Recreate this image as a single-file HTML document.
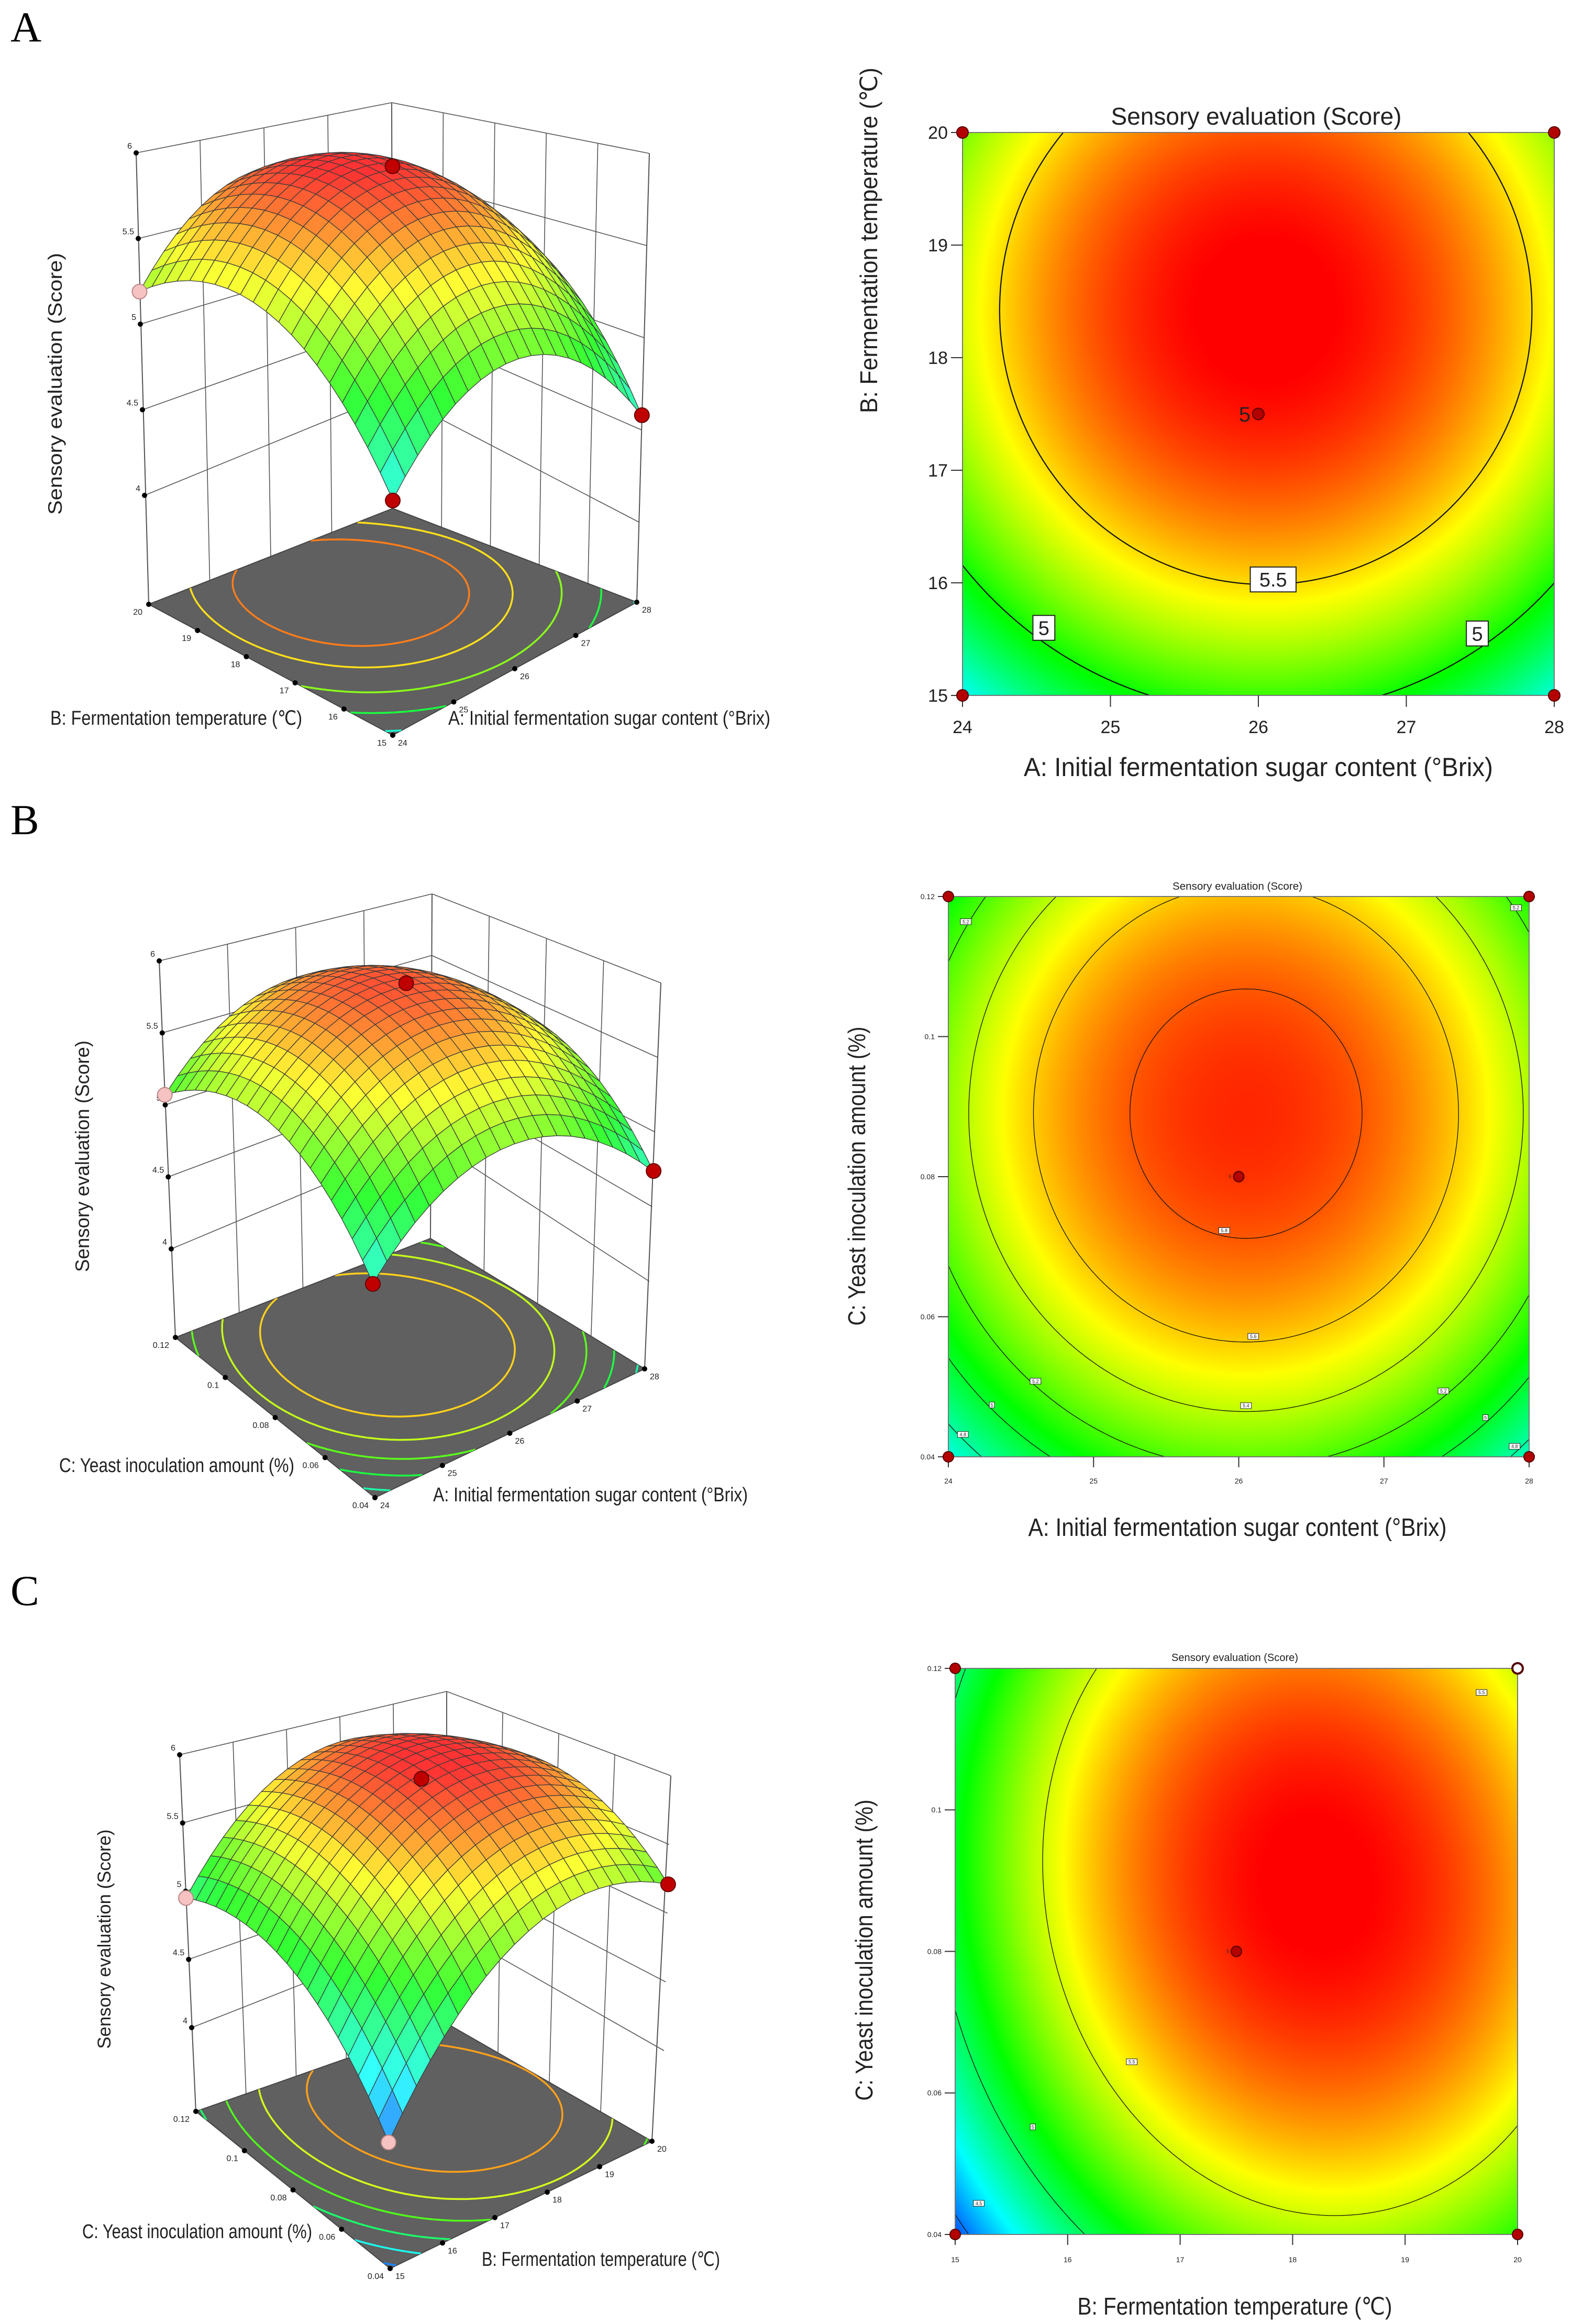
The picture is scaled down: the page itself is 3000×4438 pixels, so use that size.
<!DOCTYPE html>
<html><head><meta charset="utf-8">
<style>
html,body{margin:0;padding:0;background:#fff;}
#root{position:relative;width:3000px;height:4438px;overflow:hidden;background:#fff;}
canvas{position:absolute;}
svg{position:absolute;left:0;top:0;}
text{font-family:"Liberation Sans",sans-serif;fill:#222;}
.nar{font-family:"Liberation Sans Narrow","Liberation Sans",sans-serif;}
.let{font-family:"Liberation Serif",serif;fill:#000;}
</style></head>
<body>
<div id="root">
<canvas id="hmA"></canvas>
<canvas id="hmB"></canvas>
<canvas id="hmC"></canvas>
<svg id="svg" width="3000" height="4438">
<g id="marks"></g>
<g>
<text class="let" x="20" y="79" font-size="82">A</text>
<text class="let" x="20" y="1593" font-size="82">B</text>
<text class="let" x="20" y="3065" font-size="82">C</text>

<text x="0" y="0" font-size="37" textLength="500" lengthAdjust="spacingAndGlyphs" text-anchor="middle" transform="translate(118,733) rotate(-90)">Sensory evaluation (Score)</text>
<text class="nar" x="96" y="1384" font-size="38" textLength="481" lengthAdjust="spacingAndGlyphs">B: Fermentation temperature (℃)</text>
<text class="nar" x="856" y="1384" font-size="38" textLength="615" lengthAdjust="spacingAndGlyphs">A: Initial fermentation sugar content (°Brix)</text>

<text x="0" y="0" font-size="37" textLength="442" lengthAdjust="spacingAndGlyphs" text-anchor="middle" transform="translate(170,2208) rotate(-90)">Sensory evaluation (Score)</text>
<text class="nar" x="113" y="2811" font-size="38" textLength="449" lengthAdjust="spacingAndGlyphs">C: Yeast inoculation amount (%)</text>
<text class="nar" x="827" y="2867" font-size="38" textLength="601" lengthAdjust="spacingAndGlyphs">A: Initial fermentation sugar content (°Brix)</text>

<text x="0" y="0" font-size="35" textLength="419" lengthAdjust="spacingAndGlyphs" text-anchor="middle" transform="translate(211,3703) rotate(-90)">Sensory evaluation (Score)</text>
<text class="nar" x="157" y="4274" font-size="38" textLength="439" lengthAdjust="spacingAndGlyphs">C: Yeast inoculation amount (%)</text>
<text class="nar" x="920" y="4327" font-size="38" textLength="455" lengthAdjust="spacingAndGlyphs">B: Fermentation temperature (℃)</text>

<text x="2399" y="238" font-size="46" textLength="555" lengthAdjust="spacingAndGlyphs" text-anchor="middle">Sensory evaluation (Score)</text>
<text x="2403" y="1482" font-size="50" textLength="896" lengthAdjust="spacingAndGlyphs" text-anchor="middle">A: Initial fermentation sugar content (°Brix)</text>
<text x="0" y="0" font-size="46" textLength="660" lengthAdjust="spacingAndGlyphs" text-anchor="middle" transform="translate(1675,459) rotate(-90)">B: Fermentation temperature (℃)</text>

<text x="2363" y="1699" font-size="20" textLength="248" lengthAdjust="spacingAndGlyphs" text-anchor="middle">Sensory evaluation (Score)</text>
<text x="2363" y="2933" font-size="48" textLength="799" lengthAdjust="spacingAndGlyphs" text-anchor="middle">A: Initial fermentation sugar content (°Brix)</text>
<text x="0" y="0" font-size="46" textLength="571" lengthAdjust="spacingAndGlyphs" text-anchor="middle" transform="translate(1652,2246) rotate(-90)">C: Yeast inoculation amount (%)</text>

<text x="2358" y="3172" font-size="20" textLength="242" lengthAdjust="spacingAndGlyphs" text-anchor="middle">Sensory evaluation (Score)</text>
<text x="2358" y="4420" font-size="46" textLength="601" lengthAdjust="spacingAndGlyphs" text-anchor="middle">B: Fermentation temperature (℃)</text>
<text x="0" y="0" font-size="46" textLength="575" lengthAdjust="spacingAndGlyphs" text-anchor="middle" transform="translate(1666,3724) rotate(-90)">C: Yeast inoculation amount (%)</text>
</g>
</svg>
</div>
<script>
// ---- model data (quadratic coefficients in coded units: k0, kx, ky, kxy, kxx, kyy) ----
const coefA = [5.868, 0.0266, 0.3335, 0, -0.531, -0.4531];
const coefB = [5.863, 0.0266, 0.193, 0, -0.532, -0.429];
const coefC = [5.95, 0.33, 0.2, -0.06, -0.55, -0.38];
const colorRangeA = [4.05, 5.9];
const colorRangeB = [4.2, 5.95];
const colorRangeC = [4.3, 6.0];
const sugarTicks = [24, 25, 26, 27, 28];
const tempTicks = [15, 16, 17, 18, 19, 20];
const yeastTicks = [0.04, 0.06, 0.08, 0.1, 0.12];
const yeastTickLabels = ['0.04', '0.06', '0.08', '0.1', '0.12'];
const zTicks = [4, 4.5, 5, 5.5, 6];
const zTickLabels = ['4', '4.5', '5', '5.5', '6'];
const levelsA = [5, 5.5];
const levelsB = [4.8, 5, 5.2, 5.4, 5.6, 5.8];
const levelsC = [4.5, 5, 5.5];
const floorLevelsA = [4.6, 4.9, 5.2, 5.5, 5.7];
const floorLevelsB = [4.8, 5.0, 5.2, 5.4, 5.6];
const floorLevelsC = [4.5, 4.75, 5.0, 5.25, 5.5, 5.75];
const labelsA_x = [26.1, 24.55, 27.48];
const labelsA_y = [16.03, 15.6, 15.55];
const labelsA_t = ['5.5', '5', '5'];
const labelsB_x = [24.12, 27.91, 25.90, 26.10, 26.05, 24.60, 24.30, 24.10, 27.41, 27.70, 27.90];
const labelsB_y = [0.1164, 0.1184, 0.0723, 0.0572, 0.0473, 0.0508, 0.0474, 0.0432, 0.0494, 0.0456, 0.0415];
const labelsB_t = ['5.2', '5.2', '5.8', '5.6', '5.4', '5.2', '5', '4.8', '5.2', '5', '4.8'];
const labelsC_x = [19.68, 16.57, 15.69, 15.21];
const labelsC_y = [0.1166, 0.0644, 0.0552, 0.0444];
const labelsC_t = ['5.5', '5.5', '5', '4.5'];
// design points (coded u,v in 0..1), response value, colour type
const ptsU = [0, 1, 0, 1, 0.5];
const ptsV = [0, 0, 1, 1, 0.5];
const ballValA = [4.52, 4.58, 5.19, null, 5.95];
const ballValB = [4.68, 4.74, 5.07, null, 5.95];
const ballValC = [4.43, 5.21, 4.95, null, 6.02];
const ballTypeA = ['red', 'red', 'pink', null, 'red'];
const ballTypeB = ['red', 'red', 'pink', null, 'red'];
const ballTypeC = ['pink', 'red', 'pink', null, 'red'];
const contourPtTypeC = ['red', 'red', 'red', 'open', 'red'];

const NS = 'http://www.w3.org/2000/svg';
const marks = document.getElementById('marks');
function mk(tag, attrs, parent) {
  const e = document.createElementNS(NS, tag);
  for (const k in attrs) e.setAttribute(k, attrs[k]);
  (parent || marks).appendChild(e);
  return e;
}
function model(c, x, y) { return c[0] + c[1]*x + c[2]*y + c[3]*x*y + c[4]*x*x + c[5]*y*y; }
const stops = [[0,0,0,255],[0.25,0,255,255],[0.5,0,255,0],[0.75,255,255,0],[1,255,0,0]];
function cmap(t) {
  t = Math.max(0, Math.min(1, t));
  for (let i = 1; i < stops.length; i++) {
    if (t <= stops[i][0]) {
      const a = stops[i-1], b = stops[i], f = (t - a[0]) / (b[0] - a[0]);
      return [a[1]+(b[1]-a[1])*f, a[2]+(b[2]-a[2])*f, a[3]+(b[3]-a[3])*f];
    }
  }
  return [255,0,0];
}
function rgb(c, w) { w = w || 0; return 'rgb(' + c.map(v => Math.round(v + (255 - v) * w)).join(',') + ')'; }

function contourSegs(c, level, n) {
  const segs = [];
  const f = (i, j) => model(c, 2*i/n - 1, 2*j/n - 1);
  const g = [];
  for (let i = 0; i <= n; i++) { g[i] = []; for (let j = 0; j <= n; j++) g[i][j] = f(i, j); }
  for (let i = 0; i < n; i++) for (let j = 0; j < n; j++) {
    const v = [g[i][j], g[i+1][j], g[i+1][j+1], g[i][j+1]];
    const p = [[i,j],[i+1,j],[i+1,j+1],[i,j+1]];
    const pts = [];
    for (let k = 0; k < 4; k++) {
      const a = v[k], b = v[(k+1)%4];
      if ((a - level) * (b - level) < 0) {
        const t = (level - a) / (b - a);
        const pa = p[k], pb = p[(k+1)%4];
        pts.push([(pa[0] + (pb[0]-pa[0])*t)/n, (pa[1] + (pb[1]-pa[1])*t)/n]);
      }
    }
    if (pts.length >= 2) segs.push([pts[0], pts[1]]);
    if (pts.length === 4) segs.push([pts[2], pts[3]]);
  }
  return segs;
}

function contourPlot(cfg) {
  const [x0, y0, x1, y1] = cfg.rect;
  const W = x1 - x0, H = y1 - y0;
  const cv = document.getElementById(cfg.canvas);
  cv.width = W; cv.height = H; cv.style.left = x0 + 'px'; cv.style.top = y0 + 'px';
  const ctx = cv.getContext('2d');
  const img = ctx.createImageData(W, H);
  for (let py = 0; py < H; py++) for (let px = 0; px < W; px++) {
    const u = (px + 0.5) / W, v = 1 - (py + 0.5) / H;
    const z = model(cfg.coef, 2*u-1, 2*v-1);
    const col = cmap((z - cfg.range[0]) / (cfg.range[1] - cfg.range[0]));
    const o = (py * W + px) * 4;
    img.data[o] = col[0]; img.data[o+1] = col[1]; img.data[o+2] = col[2]; img.data[o+3] = 255;
  }
  ctx.putImageData(img, 0, 0);
  const sx = u => x0 + u * W, sy = v => y1 - v * H;
  const dx = val => (val - cfg.xDom[0]) / (cfg.xDom[1] - cfg.xDom[0]);
  const dy = val => (val - cfg.yDom[0]) / (cfg.yDom[1] - cfg.yDom[0]);
  const g = mk('g', {});
  
  
  const clipId = cfg.name + '-clip';
  const cp = mk('clipPath', {id: clipId}, g);
  mk('rect', {x: x0, y: y0, width: W, height: H}, cp);
  cfg.levels.forEach(L => {
    let d = '';
    contourSegs(cfg.coef, L, 160).forEach(s => {
      d += 'M' + sx(s[0][0]).toFixed(1) + ',' + sy(s[0][1]).toFixed(1) + 'L' + sx(s[1][0]).toFixed(1) + ',' + sy(s[1][1]).toFixed(1);
    });
    const p = mk('path', {d: d, stroke: '#111', 'stroke-width': cfg.lw, fill: 'none', 'clip-path': 'url(#' + clipId + ')'}, g);
    
    
  });
  const fr = mk('rect', {x: x0, y: y0, width: W, height: H, fill: 'none', stroke: '#777', 'stroke-width': 2}, g);
  
  
  cfg.xTicks.forEach((t, i) => {
    const x = sx(dx(t));
    mk('line', {x1: x, y1: y1, x2: x, y2: y1 + cfg.tl, stroke: '#333', 'stroke-width': 2}, g);
    const tx = mk('text', {x: x, y: cfg.xLabY, 'font-size': cfg.tf, 'text-anchor': 'middle'}, g);
    tx.textContent = cfg.xTickLabels[i];
    
    
  });
  cfg.yTicks.forEach((t, i) => {
    const y = sy(dy(t));
    mk('line', {x1: x0 - cfg.tl, y1: y, x2: x0, y2: y, stroke: '#333', 'stroke-width': 2}, g);
    const tx = mk('text', {x: x0 - cfg.tl - 6, y: y + cfg.tf * 0.35, 'font-size': cfg.tf, 'text-anchor': 'end'}, g);
    tx.textContent = cfg.yTickLabels[i];
    
    
  });
  cfg.lx.forEach((lxv, i) => {
    const x = sx(dx(lxv)), y = sy(dy(cfg.ly[i]));
    const txt = cfg.lt[i];
    const w = cfg.lf * 0.6 * txt.length + cfg.lf * 0.5, h = cfg.lf * 1.25;
    const r = mk('rect', {x: x - w/2, y: y - h/2, width: w, height: h, fill: '#fff', stroke: '#222', 'stroke-width': cfg.lf > 20 ? 2 : 1}, g);
    
    
    const t = mk('text', {x: x, y: y + cfg.lf * 0.36, 'font-size': cfg.lf, 'text-anchor': 'middle'}, g);
    t.textContent = txt;
    
    
  });
  ptsU.forEach((u, i) => {
    const type = cfg.ptTypes[i];
    const c = mk('circle', {cx: sx(u), cy: sy(ptsV[i]), r: cfg.pr, fill: type === 'open' ? '#fff' : '#b30000', stroke: '#500', 'stroke-width': type === 'open' ? 4 : 2}, g);
    
    
  });
  const ct = mk('text', {x: sx(0.5) - cfg.pr - 4, y: sy(0.5) + cfg.cf * 0.36, 'font-size': cfg.cf, 'text-anchor': 'end'}, g);
  ct.textContent = '5';
  
  
}

contourPlot({name: 'contour-a', canvas: 'hmA', rect: [1838, 253, 2968, 1328], coef: coefA, range: colorRangeA,
  xDom: [24, 28], yDom: [15, 20], levels: levelsA, lw: 2.2,
  xTicks: sugarTicks, xTickLabels: sugarTicks.map(String), yTicks: tempTicks, yTickLabels: tempTicks.map(String),
  tl: 22, tf: 34, xLabY: 1400, lx: labelsA_x, ly: labelsA_y, lt: labelsA_t, lf: 38, pr: 11, cf: 40,
  ptTypes: ['red', 'red', 'red', 'red', 'red']});
contourPlot({name: 'contour-b', canvas: 'hmB', rect: [1811, 1712, 2920, 2782], coef: coefB, range: colorRangeB,
  xDom: [24, 28], yDom: [0.04, 0.12], levels: levelsB, lw: 1.3,
  xTicks: sugarTicks, xTickLabels: sugarTicks.map(String), yTicks: yeastTicks, yTickLabels: yeastTickLabels,
  tl: 20, tf: 14, xLabY: 2833, lx: labelsB_x, ly: labelsB_y, lt: labelsB_t, lf: 9, pr: 10, cf: 9,
  ptTypes: ['red', 'red', 'red', 'red', 'red']});
contourPlot({name: 'contour-c', canvas: 'hmC', rect: [1824, 3186, 2898, 4267], coef: coefC, range: colorRangeC,
  xDom: [15, 20], yDom: [0.04, 0.12], levels: levelsC, lw: 1.3,
  xTicks: tempTicks, xTickLabels: tempTicks.map(String), yTicks: yeastTicks, yTickLabels: yeastTickLabels,
  tl: 20, tf: 14, xLabY: 4320, lx: labelsC_x, ly: labelsC_y, lt: labelsC_t, lf: 9, pr: 10, cf: 9,
  ptTypes: contourPtTypeC});

function bil(F, R, L, B, u, v) {
  return [(1-u)*(1-v)*F[0] + u*(1-v)*R[0] + (1-u)*v*L[0] + u*v*B[0],
          (1-u)*(1-v)*F[1] + u*(1-v)*R[1] + (1-u)*v*L[1] + u*v*B[1]];
}
function surface(cfg) {
  const G = cfg.geo;
  const box = (u, v, z) => {
    const p4 = bil(G.F4, G.R4, G.L4, G.B4, u, v), p6 = bil(G.F6, G.R6, G.L6, G.B6, u, v);
    const t = (z - 4) / 2;
    return [p4[0] + (p6[0]-p4[0])*t, p4[1] + (p6[1]-p4[1])*t];
  };
  const fl = (u, v) => bil(G.fF, G.fR, G.fL, G.fB, u, v);
  const g = mk('g', {});
  
  
  const ln = (a, b, w, col) => mk('line', {x1: a[0], y1: a[1], x2: b[0], y2: b[1], stroke: col || '#555', 'stroke-width': w || 1.6}, g);
  zTicks.forEach(z => { ln(box(0,1,z), box(1,1,z)); ln(box(1,1,z), box(1,0,z)); });
  cfg.uTicks.forEach((t, i) => { const u = i / (cfg.uTicks.length - 1); ln(box(u,1,6), fl(u,1)); });
  cfg.vTicks.forEach((t, i) => { const v = i / (cfg.vTicks.length - 1); ln(box(1,v,6), fl(1,v)); });
  ln(box(0,1,6), fl(0,1), 2); ln(box(1,1,6), fl(1,1), 2); ln(box(1,0,6), fl(1,0), 2);
  const fpts = [fl(0,0), fl(1,0), fl(1,1), fl(0,1)];
  const floor = mk('polygon', {points: fpts.map(p => p.join(',')).join(' '), fill: '#606060', stroke: '#444', 'stroke-width': 2}, g);
  
  
  const fclip = mk('clipPath', {id: cfg.name + '-fclip'}, g);
  mk('polygon', {points: fpts.map(p => p.join(',')).join(' ')}, fclip);
  cfg.floorLevels.forEach(L => {
    let d = '';
    contourSegs(cfg.coef, L, 100).forEach(s => {
      const a = fl(s[0][0], s[0][1]), b = fl(s[1][0], s[1][1]);
      d += 'M' + a[0].toFixed(1) + ',' + a[1].toFixed(1) + 'L' + b[0].toFixed(1) + ',' + b[1].toFixed(1);
    });
    const p = mk('path', {d: d, fill: 'none', stroke: rgb(cmap((L - cfg.range[0]) / (cfg.range[1] - cfg.range[0])), 0.1), 'stroke-width': 3.5, 'clip-path': 'url(#' + cfg.name + '-fclip)'}, g);
    
    
  });
  zTicks.forEach((z, i) => {
    const p = box(0, 1, z);
    mk('circle', {cx: p[0], cy: p[1], r: 5, fill: '#000'}, g);
    const t = mk('text', {x: p[0] - 8, y: p[1] - 8, 'font-size': 16, 'text-anchor': 'end'}, g);
    t.textContent = zTickLabels[i];
    
    
  });
  cfg.vTicks.forEach((lab, i) => {
    const p = fl(0, i / (cfg.vTicks.length - 1));
    mk('circle', {cx: p[0], cy: p[1], r: 5, fill: '#000'}, g);
    const t = mk('text', {x: p[0] - 12, y: p[1] + 20, 'font-size': 16, 'text-anchor': 'end'}, g);
    t.textContent = lab;
    
    
  });
  cfg.uTicks.forEach((lab, i) => {
    const p = fl(i / (cfg.uTicks.length - 1), 0);
    mk('circle', {cx: p[0], cy: p[1], r: 5, fill: '#000'}, g);
    const t = mk('text', {x: p[0] + 10, y: p[1] + 20, 'font-size': 16}, g);
    t.textContent = lab;
    
    
  });
  const N = 20, quads = [];
  for (let i = 0; i < N; i++) for (let j = 0; j < N; j++) quads.push([i, j]);
  quads.sort((a, b) => (b[0] + b[1]) - (a[0] + a[1]));
  const sg = mk('g', {}, g);
  
  
  quads.forEach(([i, j]) => {
    const corners = [[i, j], [i+1, j], [i+1, j+1], [i, j+1]].map(([a, b]) => {
      const u = a / N, v = b / N;
      return box(u, v, model(cfg.coef, 2*u-1, 2*v-1));
    });
    const zc = model(cfg.coef, 2*(i+0.5)/N - 1, 2*(j+0.5)/N - 1);
    const col = rgb(cmap((zc - cfg.range[0]) / (cfg.range[1] - cfg.range[0])), 0.2);
    const q = mk('polygon', {points: corners.map(p => p[0].toFixed(1) + ',' + p[1].toFixed(1)).join(' '), fill: col, stroke: '#3a3a3a', 'stroke-width': 1.3, 'stroke-linejoin': 'round'}, sg);
    
    
  });
  ptsU.forEach((u, i) => {
    if (cfg.ballVals[i] === null) return;
    const p = box(u, ptsV[i], cfg.ballVals[i]);
    const pink = cfg.ballTypes[i] === 'pink';
    const b = mk('circle', {cx: p[0], cy: p[1], r: 14, fill: pink ? '#f6c2c2' : '#c00000', stroke: pink ? '#b88' : '#600', 'stroke-width': 2}, g);
    
    
  });
}

surface({name: 'surface-a', coef: coefA, range: colorRangeA, floorLevels: floorLevelsA,
  uTicks: sugarTicks.map(String), vTicks: tempTicks.map(String), ballVals: ballValA, ballTypes: ballTypeA,
  geo: {F4: [750, 1143], F6: [750, 423], R4: [1220, 997], R6: [1240, 293], L4: [276, 946], L6: [260, 292], B4: [749, 752], B6: [748, 196],
        fF: [750, 1404], fR: [1216, 1150], fL: [284, 1154], fB: [750, 971]}});
surface({name: 'surface-b', coef: coefB, range: colorRangeB, floorLevels: floorLevelsB,
  uTicks: sugarTicks.map(String), vTicks: yeastTickLabels, ballVals: ballValB, ballTypes: ballTypeB,
  geo: {F4: [712, 2666], F6: [712, 2036], R4: [1240, 2447], R6: [1262, 1877], L4: [327, 2385], L6: [304, 1835], B4: [823, 2177], B6: [825, 1707],
        fF: [716, 2860], fR: [1231, 2614], fL: [335, 2554], fB: [822, 2365]}});
surface({name: 'surface-c', coef: coefC, range: colorRangeC, floorLevels: floorLevelsC,
  uTicks: tempTicks.map(String), vTicks: yeastTickLabels, ballVals: ballValC, ballTypes: ballTypeC,
  geo: {F4: [742, 4216], F6: [742, 3636], R4: [1268, 3916], R6: [1281, 3391], L4: [366, 3872], L6: [343, 3351], B4: [853, 3680], B6: [853, 3230],
        fF: [745, 4332], fR: [1245, 4089], fL: [374, 4032], fB: [853, 3864]}});
</script>
</body></html>
